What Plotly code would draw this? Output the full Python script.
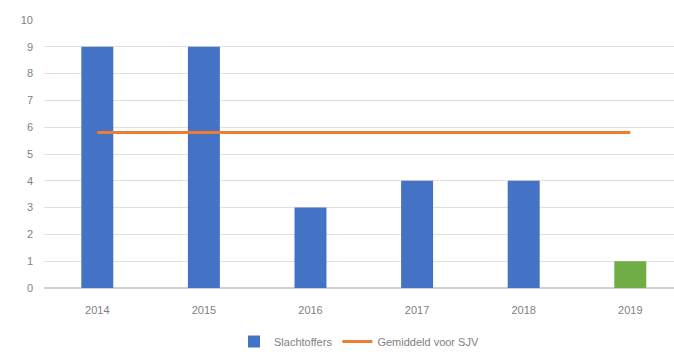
import plotly.graph_objects as go

years = ["2014", "2015", "2016", "2017", "2018", "2019"]
victims = [9, 9, 3, 4, 4, 1]
average = [5.8, 5.8, 5.8, 5.8, 5.8, 5.8]
bar_colors = ["#4472C4", "#4472C4", "#4472C4", "#4472C4", "#4472C4", "#70AD47"]

fig = go.Figure()
fig.add_trace(go.Bar(x=years, y=victims, name="Slachtoffers",
                     marker=dict(color=bar_colors, line=dict(width=0)), width=0.3))
fig.add_trace(go.Scatter(x=years, y=average, name="Gemiddeld voor SJV", mode="lines",
                         line=dict(color="#ED7D31", width=3)))

fig.update_layout(
    width=674, height=356,
    margin=dict(l=44, r=0, t=20, b=67),
    paper_bgcolor="white", plot_bgcolor="white",
    font=dict(family="Liberation Sans, Arial, sans-serif", size=11, color="#7f7f7f"),
    showlegend=True,
    legend=dict(orientation="h", x=0.5, xanchor="center", y=-0.2, yanchor="middle",
                font=dict(size=11, color="#7f7f7f")),
)
fig.update_xaxes(type="category", range=[-0.5, 5.41], showgrid=False,
                 showline=False, ticks="", ticklabelstandoff=14,
                 tickfont=dict(size=11, color="#7f7f7f"))
fig.update_yaxes(range=[0, 10], dtick=1, showgrid=True, gridcolor="#e0e0e0", gridwidth=1,
                 zeroline=True, zerolinecolor="#d0d0d0", showline=False,
                 ticks="", ticklabelstandoff=10,
                 tickfont=dict(size=11, color="#7f7f7f"))

fig.write_html("out.html")
